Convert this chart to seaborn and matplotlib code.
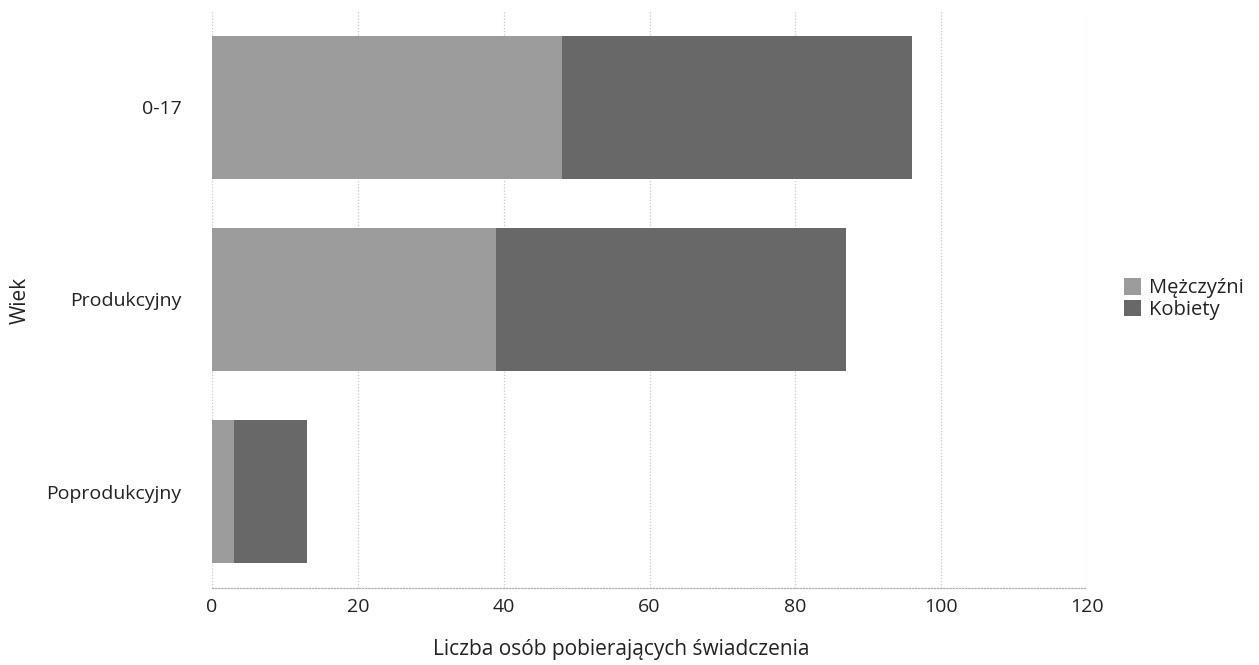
import matplotlib
matplotlib.use("Agg")
import matplotlib.pyplot as plt
import seaborn as sns
import pandas as pd
import numpy as np
from matplotlib.patches import Patch

categories = ["0-17", "Produkcyjny", "Poprodukcyjny"]
men = [48, 39, 3]
women = [48, 48, 10]
series_names = ["Mężczyźni", "Kobiety"]
x_ticks = [0, 20, 40, 60, 80, 100, 120]

sns.set_theme(style="white")
plt.rcParams['font.family'] = ['Open Sans', 'DejaVu Sans']

df = pd.DataFrame({"Wiek": categories, "men": men, "women": women})
df["total"] = df["men"] + df["women"]

c_men = "#9c9c9c"
c_women = "#686868"
txt = "#222222"

fig = plt.figure(figsize=(12.59, 6.65), dpi=100)
ax = fig.add_axes([212/1259, 1 - 588/665, (1087-212)/1259, (588-11)/665])

sns.barplot(data=df, y="Wiek", x="total", color=c_women, orient="h",
            width=0.745, ax=ax, saturation=1, zorder=3, linewidth=0)
sns.barplot(data=df, y="Wiek", x="men", color=c_men, orient="h",
            width=0.745, ax=ax, saturation=1, zorder=4, linewidth=0)

ax.set_xlim(0, 120)
ax.set_ylim(2.5, -0.5)
ax.set_xticks(x_ticks)
ax.set_xticklabels([str(t) for t in x_ticks], fontsize=14, color=txt)
ax.tick_params(axis="y", labelsize=14, colors=txt, length=0, pad=22)
ax.tick_params(axis="x", length=0, pad=7)
for t in ax.get_yticklabels():
    t.set_color(txt)

ax.grid(axis="x", color="#c8c8c8", linestyle=(0, (1, 1.5)), linewidth=0.9, zorder=0)
ax.grid(axis="y", visible=False)
for s in ["top", "right", "left"]:
    ax.spines[s].set_visible(False)
ax.spines["bottom"].set_color("#b0b0b0")
ax.spines["bottom"].set_linestyle((0, (1, 1.5)))
ax.spines["bottom"].set_linewidth(0.9)

ax.set_xlabel("Liczba osób pobierających świadczenia", fontsize=15, color=txt)
ax.xaxis.set_label_coords((621 - 212) / 875, -(650 - 588) / 577)
ax.xaxis.label.set_va("center")
ax.set_ylabel("Wiek", fontsize=15, color=txt)
ax.yaxis.set_label_coords(-(212 - 20) / 875, (588 - 300) / 577)
ax.yaxis.label.set_va("center")

handles = [Patch(facecolor=c_men, edgecolor="none", label=series_names[0]),
           Patch(facecolor=c_women, edgecolor="none", label=series_names[1])]
fig.legend(handles=handles, loc="center left", bbox_to_anchor=(1106/1259, 1 - 299/665),
           frameon=False, fontsize=14.5, handlelength=0.85, handleheight=0.85,
           handletextpad=0.4, labelspacing=0.05, labelcolor=txt)

fig.savefig("out.png", dpi=100)
